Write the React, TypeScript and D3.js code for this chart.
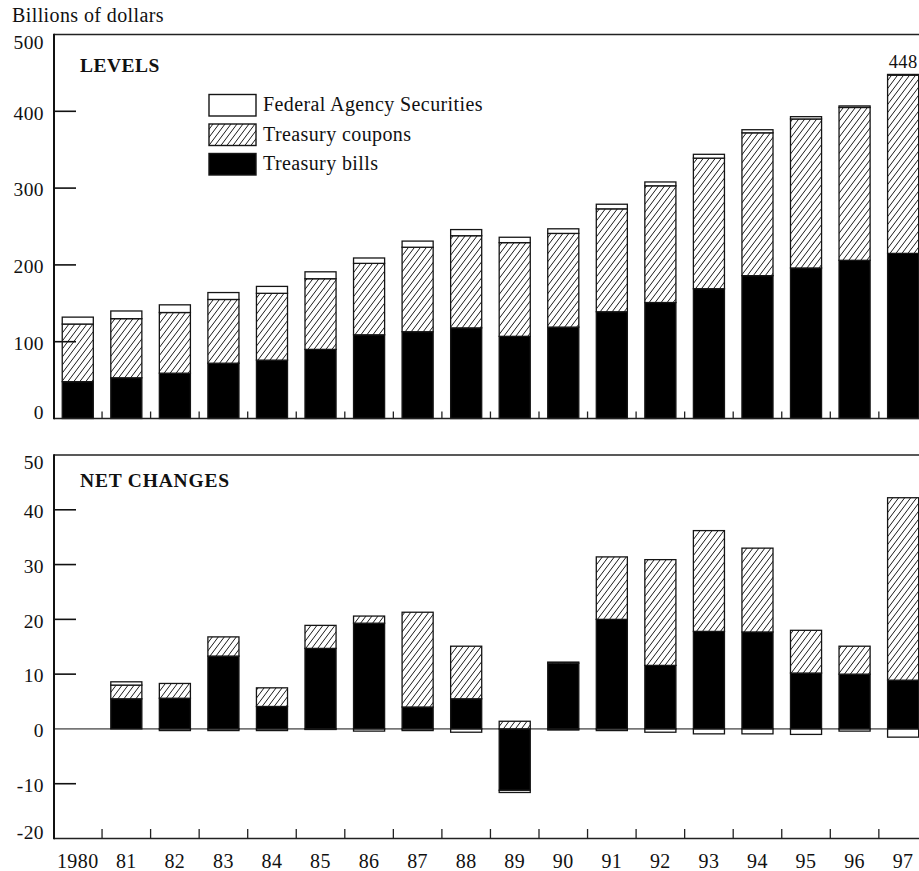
import React from "react";
import * as d3 from "d3";

const years = ["1980", "81", "82", "83", "84", "85", "86", "87", "88", "89", "90", "91", "92", "93", "94", "95", "96", "97"];

// LEVELS (billions of dollars), stacked components
const billsLevel = [48, 53, 59, 72, 76, 90, 109, 113, 118, 107, 119, 139, 151, 169, 186, 196, 206, 215];
const couponsLevel = [75, 77, 79, 83, 87, 92, 93, 110, 120, 122, 122, 134, 152, 170, 186, 194, 199, 232];
const agencyLevel = [9, 10, 10, 9, 9, 9, 7, 8, 8, 7, 6, 6, 5, 5, 4, 3, 2, 1];

// NET CHANGES (billions of dollars); 1980 has no bar
const billsChange = [0, 5.5, 5.6, 13.3, 4.1, 14.7, 19.3, 4.0, 5.5, -11.2, 12.0, 20.0, 11.6, 17.8, 17.7, 10.2, 10.0, 8.9];
const couponsChange = [0, 2.5, 2.7, 3.5, 3.4, 4.2, 1.3, 17.3, 9.6, 1.4, 0.2, 11.4, 19.3, 18.4, 15.3, 7.8, 5.1, 33.3];
const agencyChange = [0, 0.6, -0.3, -0.3, -0.3, -0.1, -0.4, -0.3, -0.6, -0.4, -0.2, -0.3, -0.6, -0.9, -0.9, -1.0, -0.4, -1.5];

const levelTicks = [0, 100, 200, 300, 400, 500];
const changeTicks = [-20, -10, 0, 10, 20, 30, 40, 50];
const topLabel = "448";

const keys = ["bills", "coupons", "agency"];
const legendItems = [
  { key: "agency", label: "Federal Agency Securities" },
  { key: "coupons", label: "Treasury coupons" },
  { key: "bills", label: "Treasury bills" },
];

const FONT = "'Liberation Serif', 'Times New Roman', serif";
const W = 919;
const H = 871;
const axisX = 54;
const rightX = 919;

const fillFor = (k: string) => (k === "bills" ? "#000" : k === "coupons" ? "url(#hatch)" : "#fff");

export default function App() {
  const x = d3
    .scaleBand<string>()
    .domain(years)
    .range([53.5, 53.5 + 48.55 * years.length])
    .paddingInner(0.36)
    .paddingOuter(0.18);
  const step = x.step();
  const x0 = 53.5;
  const boundaries = d3.range(1, years.length).map((k) => x0 + step * k);

  const yL = d3.scaleLinear().domain([0, 500]).range([418.5, 34.5]);
  const yC = d3.scaleLinear().domain([-20, 50]).range([838.5, 455]);

  const levelRows = years.map((yr, i) => ({ year: yr, bills: billsLevel[i], coupons: couponsLevel[i], agency: agencyLevel[i] }));
  const changeRows = years.map((yr, i) => ({ year: yr, bills: billsChange[i], coupons: couponsChange[i], agency: agencyChange[i] }));

  const levelStack = d3.stack<any>().keys(keys)(levelRows);
  const changeStack = d3.stack<any>().keys(keys).offset(d3.stackOffsetDiverging)(changeRows);

  const barStroke = "#151515";
  const sw = 1.3;

  const renderBars = (stack: any[], y: d3.ScaleLinear<number, number>, skipFirst: boolean) =>
    stack.map((series) => (
      <g key={series.key}>
        {series.map((d: any, i: number) => {
          if (skipFirst && i === 0) return null;
          const v = d[1] - d[0];
          if (Math.abs(v) < 1e-9) return null;
          const yt = y(Math.max(d[0], d[1]));
          const yb = y(Math.min(d[0], d[1]));
          return (
            <rect
              key={i}
              x={x(years[i])}
              y={yt}
              width={x.bandwidth()}
              height={Math.max(yb - yt, 0.01)}
              fill={fillFor(series.key)}
              stroke={barStroke}
              strokeWidth={sw}
            />
          );
        })}
      </g>
    ));

  const labelOffset = (v: number, min: number, max: number) => (v === max ? 7.5 : v === min ? -6.5 : 1.5);

  const total97 = billsLevel[17] + couponsLevel[17] + agencyLevel[17];
  const ls = 0.4;

  return (
    <svg width={W} height={H} style={{ position: "absolute", left: 0, top: 0 }} fontFamily={FONT}>
      <defs>
        <pattern id="hatch" patternUnits="userSpaceOnUse" width={6} height={8}>
          <rect width={6} height={8} fill="#fff" />
          <path d="M0,8 L6,0 M-1,1.33 L1,-1.33 M5,9.33 L7,6.67" stroke="#000" strokeWidth={0.9} />
        </pattern>
      </defs>

      <text x={12} y={22} fontSize={20} letterSpacing={ls} fill="#111">Billions of dollars</text>

      {/* ===== LEVELS panel ===== */}
      {renderBars(levelStack, yL, false)}
      <text x={x("97")! + x.bandwidth() / 2} y={yL(total97) - 6} fontSize={18.5} letterSpacing={ls} textAnchor="middle" fill="#111">{topLabel}</text>
      <line x1={axisX} x2={rightX} y1={yL(500)} y2={yL(500)} stroke="#222" strokeWidth={1.6} />
      <line x1={axisX} x2={rightX} y1={yL(0)} y2={yL(0)} stroke="#222" strokeWidth={1.6} />
      <line x1={axisX} x2={axisX} y1={yL(500) - 0.8} y2={yL(0) + 0.8} stroke="#111" strokeWidth={2} />
      {levelTicks.filter((t) => t > 0 && t < 500).map((t) => (
        <line key={t} x1={axisX} x2={axisX + 22} y1={yL(t)} y2={yL(t)} stroke="#111" strokeWidth={1.6} />
      ))}
      {boundaries.map((bx, i) => (
        <line key={i} x1={bx} x2={bx} y1={yL(0)} y2={yL(0) - 7} stroke="#222" strokeWidth={1.3} />
      ))}
      {levelTicks.map((t) => (
        <text key={t} x={44} y={yL(t) + labelOffset(t, 0, 500)} dy="0.35em" fontSize={19.5} letterSpacing={ls} textAnchor="end" fill="#111">{t}</text>
      ))}
      <text x={80} y={72} fontSize={19.5} fontWeight="bold" letterSpacing={0.5} fill="#111">LEVELS</text>

      {legendItems.map((it, i) => (
        <g key={it.key}>
          <rect x={209} y={94.5 + i * 29.5} width={47} height={21.5} fill={fillFor(it.key)} stroke={barStroke} strokeWidth={1.4} />
          <text x={263} y={111 + i * 29.5} fontSize={20} letterSpacing={ls} fill="#111">{it.label}</text>
        </g>
      ))}

      {/* ===== NET CHANGES panel ===== */}
      {renderBars(changeStack, yC, true)}
      <line x1={axisX} x2={rightX} y1={yC(50)} y2={yC(50)} stroke="#222" strokeWidth={1.6} />
      <line x1={axisX} x2={rightX} y1={yC(-20)} y2={yC(-20)} stroke="#222" strokeWidth={1.6} />
      <line x1={axisX} x2={rightX} y1={yC(0)} y2={yC(0)} stroke="#111" strokeWidth={1} />
      <line x1={axisX} x2={axisX} y1={yC(50) - 0.8} y2={yC(-20) + 0.8} stroke="#111" strokeWidth={2} />
      {changeTicks.filter((t) => t > -20 && t < 50 && t !== 0).map((t) => (
        <line key={t} x1={axisX} x2={axisX + 22} y1={yC(t)} y2={yC(t)} stroke="#111" strokeWidth={1.6} />
      ))}
      {boundaries.map((bx, i) => (
        <line key={i} x1={bx} x2={bx} y1={yC(-20)} y2={yC(-20) - 9.5} stroke="#222" strokeWidth={1.3} />
      ))}
      {changeTicks.map((t) => (
        <text key={t} x={44} y={yC(t) + labelOffset(t, -20, 50)} dy="0.35em" fontSize={19.5} letterSpacing={ls} textAnchor="end" fill="#111">{t}</text>
      ))}
      <text x={80} y={487} fontSize={19.5} fontWeight="bold" letterSpacing={0.8} fill="#111">NET CHANGES</text>

      {years.map((yr) => (
        <text key={yr} x={x(yr)! + x.bandwidth() / 2} y={868} fontSize={20} letterSpacing={ls} textAnchor="middle" fill="#111">{yr}</text>
      ))}
    </svg>
  );
}
